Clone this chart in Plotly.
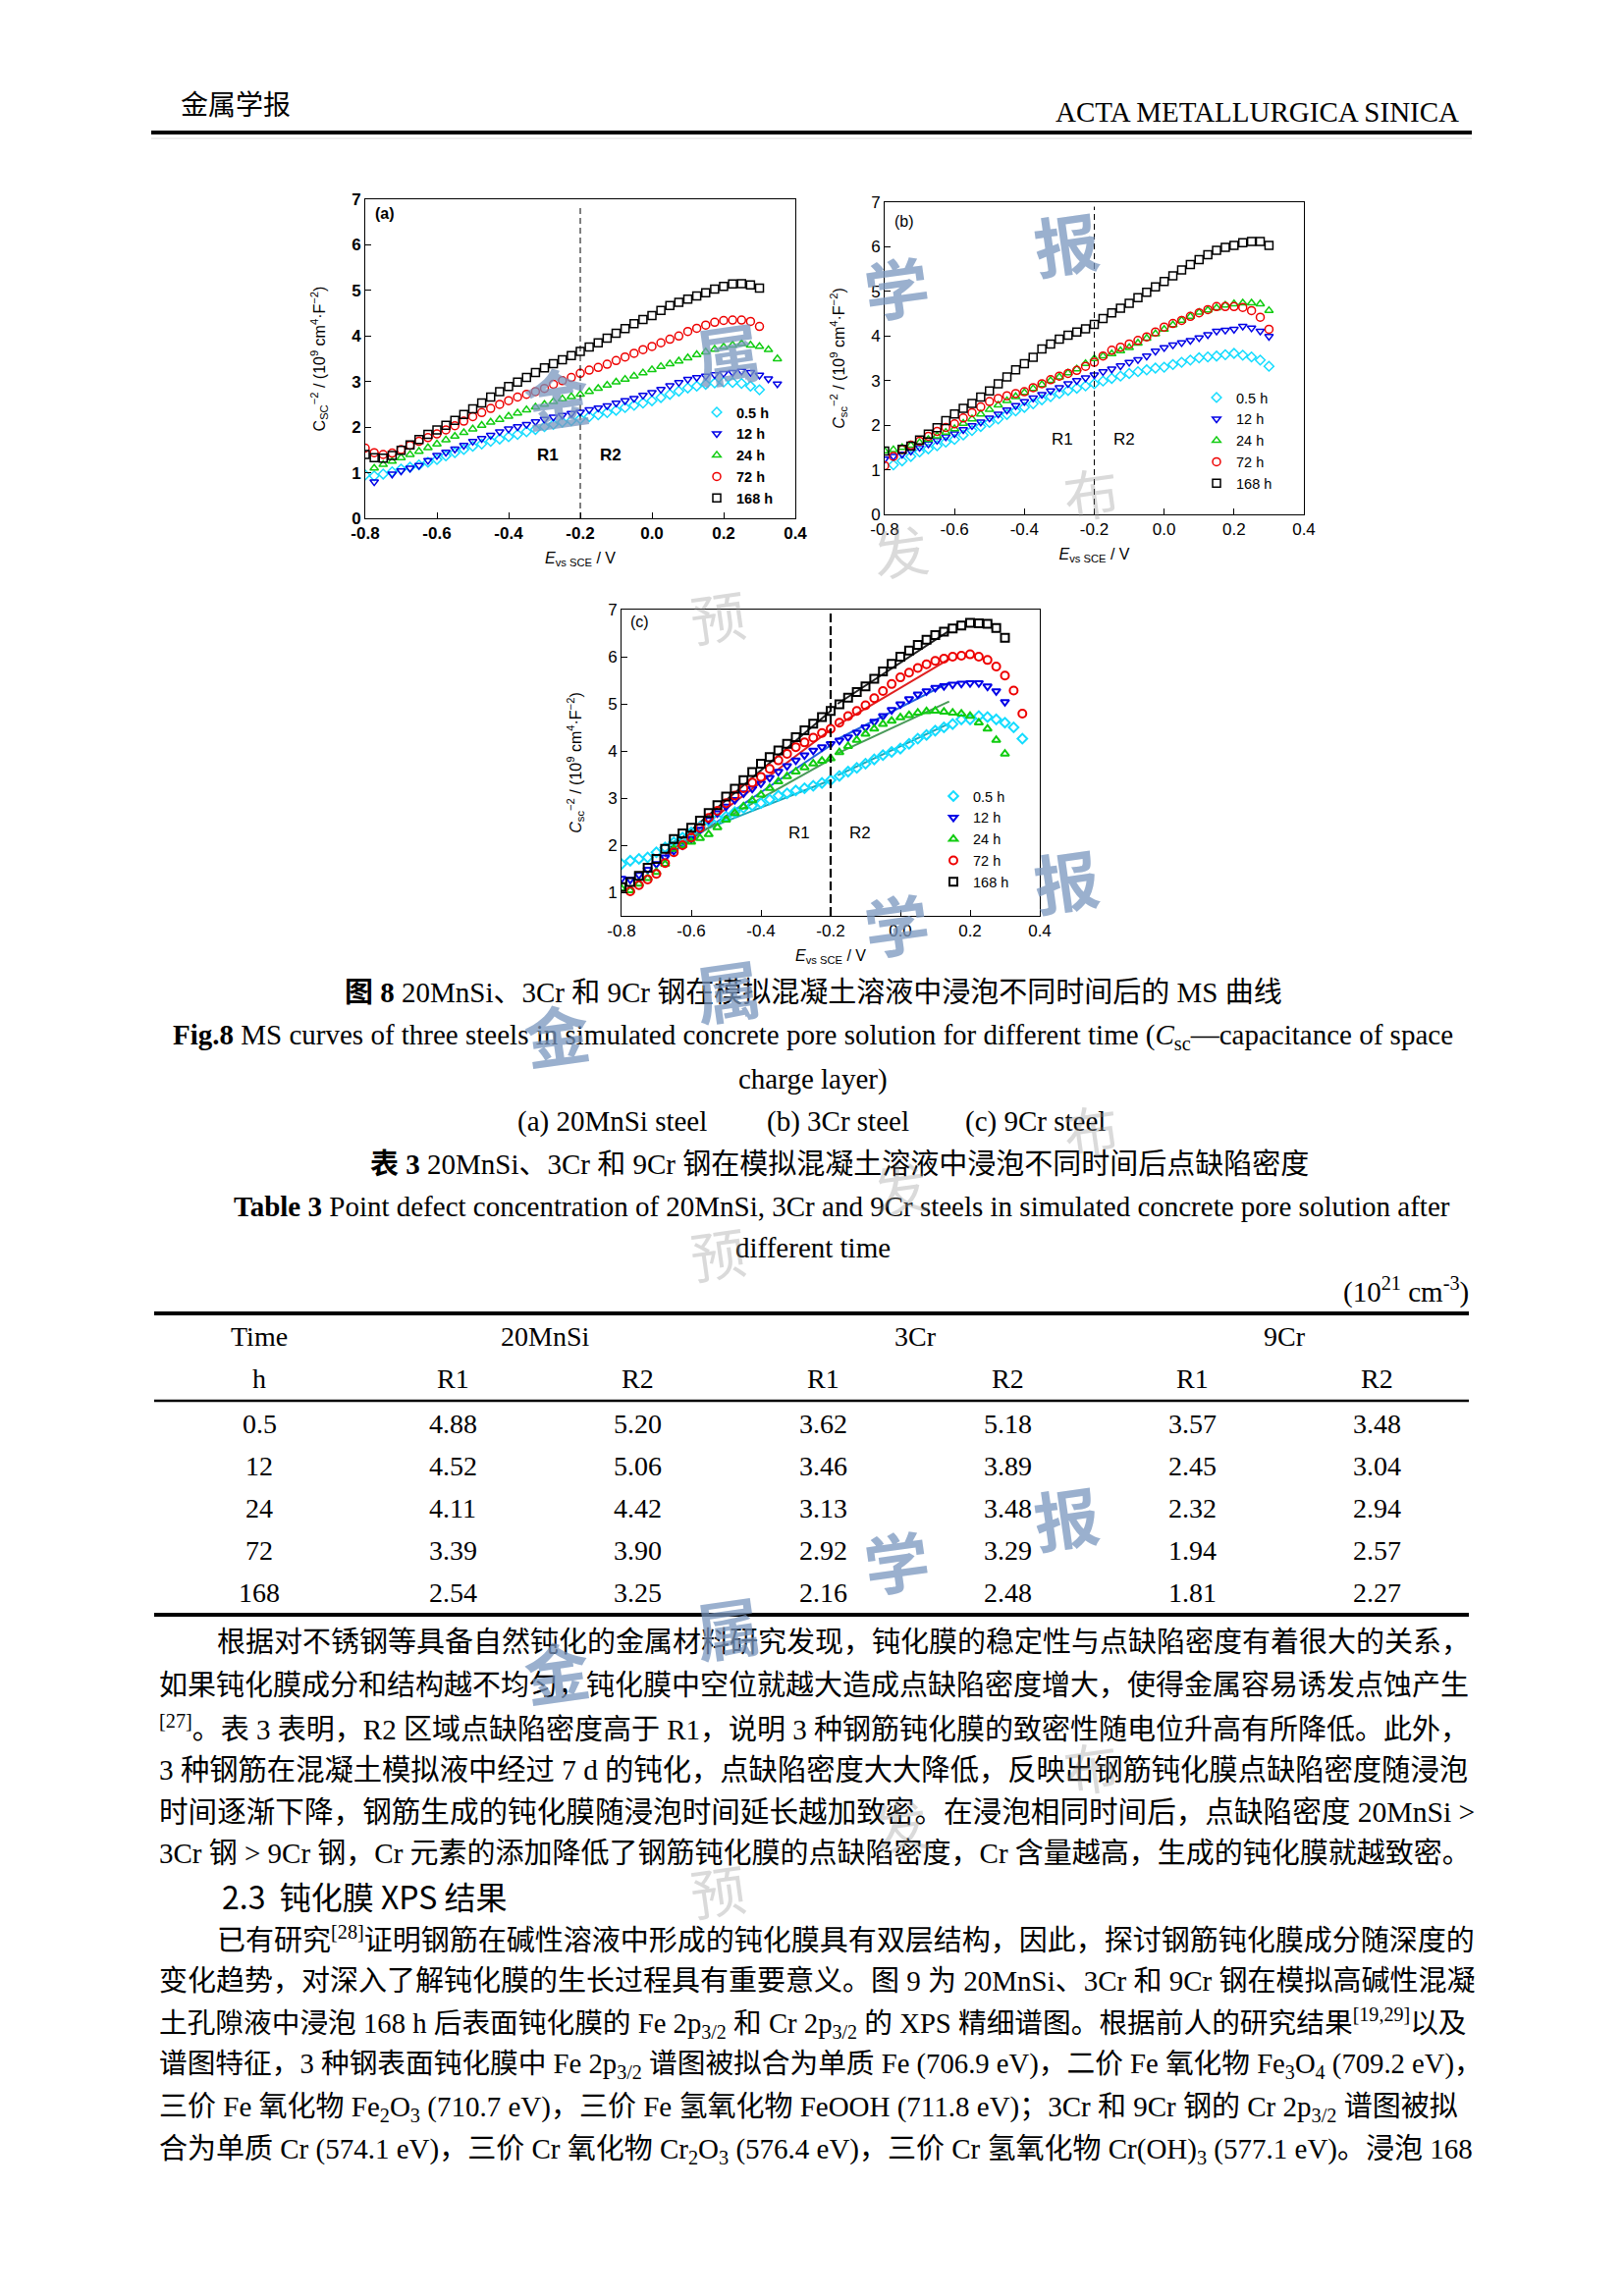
import plotly.graph_objects as go

W, H = 1654, 2339
M = 8  # default page margin of the html body

# ---------------- data ----------------
E_GRID = [-0.8, -0.775, -0.75, -0.725, -0.7, -0.675, -0.65, -0.625, -0.6, -0.575,
          -0.55, -0.525, -0.5, -0.475, -0.45, -0.425, -0.4, -0.375, -0.35, -0.325,
          -0.3, -0.275, -0.25, -0.225, -0.2, -0.175, -0.15, -0.125, -0.1, -0.075,
          -0.05, -0.025, 0.0, 0.025, 0.05, 0.075, 0.1, 0.125, 0.15, 0.175,
          0.2, 0.225, 0.25, 0.275, 0.3, 0.325, 0.35]

SERIES_NAMES = ["0.5 h", "12 h", "24 h", "72 h", "168 h"]

# (a) 20MnSi
A_05 = [0.95, 0.93, 0.97, 1.02, 1.08, 1.12, 1.17, 1.23, 1.29, 1.37, 1.44, 1.51, 1.58, 1.63, 1.69, 1.74,
        1.79, 1.84, 1.90, 1.95, 2.01, 2.06, 2.11, 2.14, 2.18, 2.23, 2.27, 2.32, 2.37, 2.43, 2.48, 2.53,
        2.58, 2.65, 2.72, 2.79, 2.86, 2.90, 2.94, 2.97, 2.99, 2.98, 2.96, 2.90, 2.82]
A_12 = [None, 0.80, None, 0.97, 1.04, 1.10, 1.16, 1.27, 1.38, 1.45, 1.52, 1.60, 1.69, 1.75, 1.82, 1.90,
        1.96, 2.01, 2.06, 2.12, 2.17, 2.22, 2.26, 2.30, 2.33, 2.38, 2.42, 2.47, 2.53, 2.58, 2.63, 2.70,
        2.76, 2.83, 2.91, 2.98, 3.05, 3.09, 3.12, 3.15, 3.18, 3.20, 3.23, 3.20, 3.14, 3.06, 2.95]
A_24 = [None, 1.10, 1.18, 1.25, 1.33, 1.40, 1.47, 1.55, 1.63, 1.72, 1.80, 1.88, 1.96, 2.04, 2.11, 2.17,
        2.24, 2.31, 2.38, 2.44, 2.50, 2.56, 2.62, 2.67, 2.72, 2.78, 2.85, 2.92, 2.99, 3.05, 3.12, 3.19,
        3.26, 3.33, 3.39, 3.45, 3.52, 3.59, 3.65, 3.71, 3.76, 3.80, 3.83, 3.80, 3.77, 3.70, 3.50]
A_72 = [1.54, 1.44, 1.40, 1.43, 1.51, 1.60, 1.69, 1.77, 1.85, 1.94, 2.03, 2.13, 2.23, 2.32, 2.41, 2.50,
        2.58, 2.66, 2.72, 2.78, 2.85, 2.94, 3.02, 3.09, 3.18, 3.25, 3.31, 3.38, 3.46, 3.54, 3.62, 3.70,
        3.77, 3.85, 3.93, 4.00, 4.10, 4.17, 4.24, 4.30, 4.34, 4.35, 4.35, 4.32, 4.21]
A_168 = [1.40, 1.33, 1.32, 1.38, 1.49, 1.61, 1.73, 1.84, 1.94, 2.04, 2.15, 2.28, 2.40, 2.53, 2.66, 2.78,
         2.89, 2.99, 3.09, 3.20, 3.30, 3.39, 3.48, 3.57, 3.66, 3.76, 3.85, 3.95, 4.06, 4.16, 4.27, 4.36,
         4.45, 4.56, 4.67, 4.74, 4.81, 4.88, 4.95, 5.03, 5.09, 5.14, 5.15, 5.12, 5.05]

# (b) 3Cr
B_05 = [None, 1.11, 1.20, 1.30, 1.40, 1.47, 1.54, 1.62, 1.68, 1.78, 1.88, 1.97, 2.06, 2.14, 2.24, 2.32,
        2.40, 2.48, 2.57, 2.64, 2.71, 2.78, 2.83, 2.88, 2.93, 2.99, 3.05, 3.10, 3.16, 3.20, 3.24, 3.28,
        3.30, 3.36, 3.41, 3.46, 3.51, 3.53, 3.55, 3.58, 3.61, 3.57, 3.53, 3.46, 3.32]
B_12 = [1.24, 1.30, 1.35, 1.42, 1.50, 1.58, 1.66, 1.74, 1.81, 1.90, 1.99, 2.07, 2.16, 2.25, 2.34, 2.44,
        2.53, 2.61, 2.69, 2.77, 2.84, 2.93, 3.00, 3.06, 3.13, 3.20, 3.26, 3.33, 3.41, 3.47, 3.55, 3.66,
        3.74, 3.80, 3.85, 3.90, 3.96, 4.03, 4.11, 4.13, 4.15, 4.22, 4.18, 4.11, 3.99]
B_24 = [1.42, 1.45, 1.50, 1.55, 1.61, 1.68, 1.76, 1.84, 1.92, 2.04, 2.14, 2.25, 2.35, 2.45, 2.55, 2.64,
        2.73, 2.82, 2.91, 3.00, 3.08, 3.17, 3.26, 3.38, 3.49, 3.55, 3.60, 3.67, 3.74, 3.84, 3.95, 4.05,
        4.15, 4.25, 4.35, 4.44, 4.53, 4.58, 4.63, 4.69, 4.72, 4.74, 4.74, 4.72, 4.57]
B_72 = [1.09, 1.30, 1.46, 1.55, 1.64, 1.75, 1.86, 1.95, 2.03, 2.16, 2.28, 2.41, 2.53, 2.60, 2.66, 2.71,
        2.75, 2.84, 2.93, 3.02, 3.10, 3.16, 3.23, 3.32, 3.41, 3.55, 3.68, 3.75, 3.82, 3.90, 3.98, 4.09,
        4.20, 4.28, 4.35, 4.44, 4.52, 4.59, 4.66, 4.66, 4.66, 4.64, 4.57, 4.42, 4.15]
B_168 = [1.42, None, 1.46, 1.53, 1.67, 1.80, 1.94, 2.10, 2.25, 2.38, 2.49, 2.63, 2.77, 2.93, 3.08, 3.24,
         3.38, 3.52, 3.71, 3.82, 3.93, 4.02, 4.09, 4.16, 4.26, 4.39, 4.52, 4.62, 4.73, 4.86, 4.98, 5.10,
         5.22, 5.35, 5.48, 5.60, 5.71, 5.82, 5.92, 5.99, 6.03, 6.09, 6.12, 6.12, 6.03]

# (c) 9Cr
C_05 = [1.60, 1.67, 1.71, 1.74, 1.85, 1.95, 2.06, 2.16, 2.27, 2.39, 2.51, 2.56, 2.61, 2.70, 2.79, 2.84,
        2.89, 2.97, 3.05, 3.10, 3.16, 3.21, 3.26, 3.32, 3.38, 3.47, 3.56, 3.64, 3.73, 3.82, 3.91, 3.98,
        4.05, 4.15, 4.26, 4.34, 4.43, 4.50, 4.57, 4.67, 4.67, 4.74, 4.72, 4.67, 4.60, 4.50, 4.26]
C_12 = [1.29, 1.27, 1.37, 1.48, 1.60, 1.74, 1.88, 2.00, 2.13, 2.33, 2.54, 2.68, 2.82, 2.96, 3.10, 3.20,
        3.31, 3.43, 3.56, 3.68, 3.80, 3.91, 4.01, 4.08, 4.15, 4.22, 4.29, 4.39, 4.50, 4.62, 4.74, 4.87,
        4.99, 5.10, 5.20, 5.27, 5.34, 5.38, 5.41, 5.43, 5.44, 5.44, 5.37, 5.27, 5.04]
C_24 = [1.08, 1.04, 1.18, 1.30, 1.43, 1.60, 1.92, 2.00, 2.07, 2.15, 2.23, 2.38, 2.54, 2.68, 2.82, 2.95,
        3.07, 3.21, 3.35, 3.46, 3.56, 3.65, 3.73, 3.79, 3.84, 3.97, 4.10, 4.23, 4.36, 4.47, 4.57, 4.64,
        4.71, 4.76, 4.81, 4.84, 4.85, 4.83, 4.81, 4.79, 4.74, 4.60, 4.47, 4.23, 3.94]
C_72 = [None, 1.02, 1.15, 1.27, 1.39, 1.62, 1.85, 2.00, 2.16, 2.37, 2.58, 2.73, 2.89, 3.05, 3.21, 3.33,
        3.45, 3.62, 3.80, 3.94, 4.08, 4.18, 4.28, 4.38, 4.47, 4.60, 4.74, 4.85, 4.97, 5.12, 5.27, 5.42,
        5.56, 5.66, 5.76, 5.84, 5.91, 5.96, 6.00, 6.02, 6.05, 6.00, 5.93, 5.79, 5.60, 5.28, 4.79]
C_168 = [1.11, 1.22, 1.35, 1.52, 1.71, 1.92, 2.13, 2.25, 2.37, 2.52, 2.68, 2.85, 3.03, 3.20, 3.38, 3.55,
         3.73, 3.87, 4.01, 4.15, 4.29, 4.44, 4.58, 4.72, 4.85, 4.99, 5.13, 5.25, 5.37, 5.53, 5.69, 5.85,
         6.00, 6.13, 6.25, 6.36, 6.46, 6.53, 6.60, 6.66, 6.72, 6.71, 6.70, 6.61, 6.40]

# linear fits drawn in (c): endpoints (E) and fitted values
C_FIT_R1_E = [-0.675, -0.2]
C_FIT_R2_E = [-0.18, 0.14]
C_FIT_R1 = [[2.00, 3.38], [1.75, 4.12], [1.85, 3.82], [1.80, 4.45], [1.85, 4.85]]
C_FIT_R2 = [[3.48, 4.58], [4.25, 5.45], [3.95, 5.05], [4.55, 5.95], [5.00, 6.55]]

E_BOUNDARY = -0.2
X_TICKS = [-0.8, -0.6, -0.4, -0.2, 0.0, 0.2, 0.4]
X_TICK_TEXT = ["-0.8", "-0.6", "-0.4", "-0.2", "0.0", "0.2", "0.4"]
Y_TICKS = [0, 1, 2, 3, 4, 5, 6, 7]

# Table 3
TAB_TIME = ["0.5", "12", "24", "72", "168"]
MNSI_R1 = [4.88, 4.52, 4.11, 3.39, 2.54]
MNSI_R2 = [5.20, 5.06, 4.42, 3.90, 3.25]
CR3_R1 = [3.62, 3.46, 3.13, 2.92, 2.16]
CR3_R2 = [5.18, 3.89, 3.48, 3.29, 2.48]
CR9_R1 = [3.57, 2.45, 2.32, 1.94, 1.81]
CR9_R2 = [3.48, 3.04, 2.94, 2.57, 2.27]
TAB_STEELS = ["20MnSi", "3Cr", "9Cr"]
TAB_SUB = ["h", "R1", "R2", "R1", "R2", "R1", "R2"]

# ---------------- styles ----------------
COLORS = ["#14dcff", "#0000e6", "#10cc10", "#ee0000", "#000000"]
FIT_COLORS = ["#1aa6b8", "#1f5fe0", "#4a9a5a", "#e02020", "#222222"]
SYMBOLS = ["diamond-open", "triangle-down-open", "triangle-up-open", "circle-open", "square-open"]
SIZES = [7.5, 7.5, 7.5, 8, 8]
SANS = "Liberation Sans, Arial, sans-serif"
SERIF = "Liberation Serif, Times New Roman, Noto Sans CJK SC, serif"
CJK = "Noto Sans CJK SC, sans-serif"

FW, FH = W - 2 * M, H - 2 * M


def px(x):
    return (x - M) / FW


def py(y):
    return 1 - (y - M) / FH


fig = go.Figure()

panels = [
    dict(data=[A_05, A_12, A_24, A_72, A_168], xa="x", ya="y", leg="legend", lw=1.5),
    dict(data=[B_05, B_12, B_24, B_72, B_168], xa="x2", ya="y2", leg="legend2", lw=1.5),
    dict(data=[C_05, C_12, C_24, C_72, C_168], xa="x3", ya="y3", leg="legend3", lw=2.0),
]

# fit lines in (c) first (under markers)
for i in range(5):
    for ex, ey in ((C_FIT_R1_E, C_FIT_R1[i]), (C_FIT_R2_E, C_FIT_R2[i])):
        fig.add_trace(go.Scatter(x=ex, y=ey, mode="lines", xaxis="x3", yaxis="y3",
                                 line=dict(color=FIT_COLORS[i], width=2), showlegend=False,
                                 hoverinfo="skip"))

for p in panels:
    for i, ys in enumerate(p["data"]):
        xs = E_GRID[:len(ys)]
        fig.add_trace(go.Scatter(
            x=xs, y=ys, mode="markers", name=SERIES_NAMES[i],
            xaxis=p["xa"], yaxis=p["ya"], legend=p["leg"],
            marker=dict(symbol=SYMBOLS[i], size=SIZES[i], color=COLORS[i],
                        line=dict(color=COLORS[i], width=p["lw"])),
        ))

# ---------------- axes ----------------
dom = {
    "a": dict(x=(372, 810), y=(203, 528)),
    "b": dict(x=(901, 1328), y=(206, 524)),
    "c": dict(x=(633, 1059), y=(621, 933)),
}


def xax(d, bold):
    return dict(domain=[px(d["x"][0]), px(d["x"][1])], range=[-0.8, 0.4],
                tickvals=X_TICKS, ticktext=X_TICK_TEXT, ticks="inside", ticklen=6,
                tickcolor="black", showline=True, linecolor="black", linewidth=1, mirror=True,
                showgrid=False, zeroline=False, automargin=False,
                tickfont=dict(family=SANS, size=17, color="black", weight="bold" if bold else "normal"),
                title=dict(text="<i>E</i><sub>vs SCE</sub> / V", standoff=10,
                           font=dict(family=SANS, size=16, color="black")))


def yax(d, bold, rng, tv, lower):
    sc = "sc" if lower else "SC"
    c = "<i>C</i>" if lower else "C"
    return dict(domain=[py(d["y"][1]), py(d["y"][0])], range=rng,
                tickvals=tv, ticks="inside", ticklen=6,
                tickcolor="black", showline=True, linecolor="black", linewidth=1, mirror=True,
                showgrid=False, zeroline=False, automargin=False,
                tickfont=dict(family=SANS, size=17, color="black", weight="bold" if bold else "normal"),
                title=dict(text=c + "<sub>" + sc + "</sub><sup>−2</sup> / (10<sup>9</sup> cm<sup>4</sup>·F<sup>−2</sup>)",
                           standoff=22, font=dict(family=SANS, size=16, color="black")))


fig.update_layout(
    xaxis=dict(**xax(dom["a"], True), anchor="y"),
    yaxis=dict(**yax(dom["a"], True, [0, 7], Y_TICKS, False), anchor="x"),
    xaxis2=dict(**xax(dom["b"], False), anchor="y2"),
    yaxis2=dict(**yax(dom["b"], False, [0, 7], Y_TICKS, True), anchor="x2"),
    xaxis3=dict(**xax(dom["c"], False), anchor="y3"),
    yaxis3=dict(**yax(dom["c"], False, [0.5, 7], Y_TICKS[1:], True), anchor="x3"),
)


def legend_at(mx, my, bold):
    return dict(x=px(mx - 20), y=py(my - 19), xanchor="left", yanchor="top",
                bgcolor="rgba(0,0,0,0)", borderwidth=0, tracegroupgap=0,
                font=dict(family=SANS, size=14.5, color="black", weight="bold" if bold else "normal"))


fig.update_layout(
    legend=legend_at(730, 423, True),
    legend2=legend_at(1239, 408, False),
    legend3=legend_at(971, 814, False),
)

shapes = []
# dashed boundary lines
shapes.append(dict(type="line", xref="x", yref="y", x0=E_BOUNDARY, x1=E_BOUNDARY, y0=0, y1=6.85,
                   line=dict(color="black", width=1, dash="6px,4px")))
shapes.append(dict(type="line", xref="x2", yref="y2", x0=E_BOUNDARY, x1=E_BOUNDARY, y0=0, y1=6.9,
                   line=dict(color="black", width=1, dash="6px,4px")))
shapes.append(dict(type="line", xref="x3", yref="y3", x0=E_BOUNDARY, x1=E_BOUNDARY, y0=0.5, y1=7,
                   line=dict(color="black", width=2.2, dash="9px,4px")))
# header rules
shapes.append(dict(type="line", xref="paper", yref="paper", x0=px(154), x1=px(1499), y0=py(135), y1=py(135),
                   line=dict(color="black", width=4)))
shapes.append(dict(type="line", xref="paper", yref="paper", x0=px(154), x1=px(1499), y0=py(141), y1=py(141),
                   line=dict(color="#d8d8d8", width=1)))
# table rules
for yy, wdt in ((1338, 4), (1427, 2.5), (1645, 4)):
    shapes.append(dict(type="line", xref="paper", yref="paper", x0=px(157), x1=px(1496), y0=py(yy), y1=py(yy),
                       line=dict(color="black", width=wdt)))
fig.update_layout(shapes=shapes)

ann = []


def T(text, x, y, size, family=SERIF, xanchor="center", bold=False, color="black", angle=0):
    ann.append(dict(text=text, x=px(x), y=py(y), xref="paper", yref="paper", showarrow=False,
                    xanchor=xanchor, yanchor="middle", textangle=angle,
                    font=dict(family=family, size=size, color=color, weight="bold" if bold else "normal")))


# panel letters and region labels
T("(a)", 380, 218, 16, SANS, "left", True)
T("(b)", 909, 225, 16, SANS, "left")
T("(c)", 640, 634, 16, SANS, "left")
for xa, ya, yv, bold in (("x", "y", 1.40, True), ("x2", "y2", 1.68, False), ("x3", "y3", 2.25, False)):
    for lab, xv in (("R1", -0.29), ("R2", -0.115)):
        ann.append(dict(text=lab, x=xv, y=yv, xref=xa, yref=ya, showarrow=False,
                        font=dict(family=SANS, size=17, color="black", weight="bold" if bold else "normal")))

# header
T("金属学报", 240, 105, 28, CJK, "center", False, "black")
T("ACTA METALLURGICA SINICA", 1488, 114, 29, SERIF, "right")

# captions
CAP = 29
T("<b>图 8</b> 20MnSi、3Cr 和 9Cr 钢在模拟混凝土溶液中浸泡不同时间后的 MS 曲线", 828, 1011, CAP)
T("<b>Fig.8</b> MS curves of three steels in simulated concrete pore solution for different time (<i>C</i><sub>sc</sub>—capacitance of space",
  828, 1056, CAP)
T("charge layer)", 828, 1099, CAP)
T("(a) 20MnSi steel", 623, 1142, CAP)
T("(b) 3Cr steel", 853, 1142, CAP)
T("(c) 9Cr steel", 1054, 1142, CAP)
T("<b>表 3</b> 20MnSi、3Cr 和 9Cr 钢在模拟混凝土溶液中浸泡不同时间后点缺陷密度", 855, 1186, CAP)
T("<b>Table 3</b> Point defect concentration of 20MnSi, 3Cr and 9Cr steels in simulated concrete pore solution after",
  857, 1229, CAP)
T("different time", 828, 1271, CAP)
T("(10<sup>21</sup> cm<sup>-3</sup>)", 1498, 1314, CAP, SERIF, "right")

# table text
TAB = 28
COL_X = [264, 461, 649, 838, 1026, 1214, 1402]
T("Time", COL_X[0], 1362, TAB)
for k, s in enumerate(TAB_STEELS):
    T(s, (COL_X[1 + 2 * k] + COL_X[2 + 2 * k]) / 2, 1362, TAB)
for j, s in enumerate(TAB_SUB):
    T(s, COL_X[j], 1405, TAB)
ROW_Y = [1450, 1493, 1536, 1579, 1622]
cols = [MNSI_R1, MNSI_R2, CR3_R1, CR3_R2, CR9_R1, CR9_R2]
for r in range(5):
    T(TAB_TIME[r], COL_X[0], ROW_Y[r], TAB)
    for c, col in enumerate(cols):
        T(f"{col[r]:.2f}", COL_X[c + 1], ROW_Y[r], TAB)

# body text
P1 = [
    "根据对不锈钢等具备自然钝化的金属材料研究发现，钝化膜的稳定性与点缺陷密度有着很大的关系，",
    "如果钝化膜成分和结构越不均匀，钝化膜中空位就越大造成点缺陷密度增大，使得金属容易诱发点蚀产生",
    "<sup>[27]</sup>。表 3 表明，R2 区域点缺陷密度高于 R1，说明 3 种钢筋钝化膜的致密性随电位升高有所降低。此外，",
    "3 种钢筋在混凝土模拟液中经过 7 d 的钝化，点缺陷密度大大降低，反映出钢筋钝化膜点缺陷密度随浸泡",
    "时间逐渐下降，钢筋生成的钝化膜随浸泡时间延长越加致密。在浸泡相同时间后，点缺陷密度 20MnSi &gt;",
    "3Cr 钢 &gt; 9Cr 钢，Cr 元素的添加降低了钢筋钝化膜的点缺陷密度，Cr 含量越高，生成的钝化膜就越致密。",
]
P1_Y = [1673, 1717, 1760, 1803, 1846, 1888]
P1_SIZE = [29, 29, 29, 29.3, 29.6, 29]
for i, line in enumerate(P1):
    T(line, 219 if i == 0 else 160, P1_Y[i], P1_SIZE[i], SERIF, "left")

T("2.3  钝化膜 XPS 结果", 224, 1931, 32, CJK, "left")

P2 = [
    "已有研究<sup>[28]</sup>证明钢筋在碱性溶液中形成的钝化膜具有双层结构，因此，探讨钢筋钝化膜成分随深度的",
    "变化趋势，对深入了解钝化膜的生长过程具有重要意义。图 9 为 20MnSi、3Cr 和 9Cr 钢在模拟高碱性混凝",
    "土孔隙液中浸泡 168 h 后表面钝化膜的 Fe 2p<sub>3/2</sub> 和 Cr 2p<sub>3/2</sub> 的 XPS 精细谱图。根据前人的研究结果<sup>[19,29]</sup>以及",
    "谱图特征，3 种钢表面钝化膜中 Fe 2p<sub>3/2</sub> 谱图被拟合为单质 Fe (706.9 eV)，二价 Fe 氧化物 Fe<sub>3</sub>O<sub>4</sub> (709.2 eV)，",
    "三价 Fe 氧化物 Fe<sub>2</sub>O<sub>3</sub> (710.7 eV)，三价 Fe 氢氧化物 FeOOH (711.8 eV)；3Cr 和 9Cr 钢的 Cr 2p<sub>3/2</sub> 谱图被拟",
    "合为单质 Cr (574.1 eV)，三价 Cr 氧化物 Cr<sub>2</sub>O<sub>3</sub> (576.4 eV)，三价 Cr 氢氧化物 Cr(OH)<sub>3</sub> (577.1 eV)。浸泡 168",
]
P2_Y = [1975, 2018, 2061, 2104, 2148, 2191]
P2_SIZE = [29, 29, 28.7, 28.7, 29, 29]
for i, line in enumerate(P2):
    T(line, 219 if i == 0 else 160, P2_Y[i], P2_SIZE[i], SERIF, "left")

# watermarks (journal preprint stamp)
WM_BLUE = [("金", 567, 403), ("属", 741, 358), ("学", 913, 291), ("报", 1086, 246)]
WM_GREY = [("预", 731, 626), ("发", 917, 559), ("布", 1111, 500)]
for k in range(3):
    off = 649 * k
    for ch, x, y in WM_BLUE:
        T(ch, x, y + off, 66, CJK, "center", True, "rgba(120,150,190,0.75)", -8)
    for ch, x, y in WM_GREY:
        T(ch, x, y + off, 56, CJK, "center", False, "rgba(150,150,150,0.35)", -8)

fig.update_layout(annotations=ann)

fig.update_layout(width=FW, height=FH, margin=dict(l=0, r=0, t=0, b=0),
                  paper_bgcolor="white", plot_bgcolor="white", showlegend=True)

fig.write_html("out.html")
